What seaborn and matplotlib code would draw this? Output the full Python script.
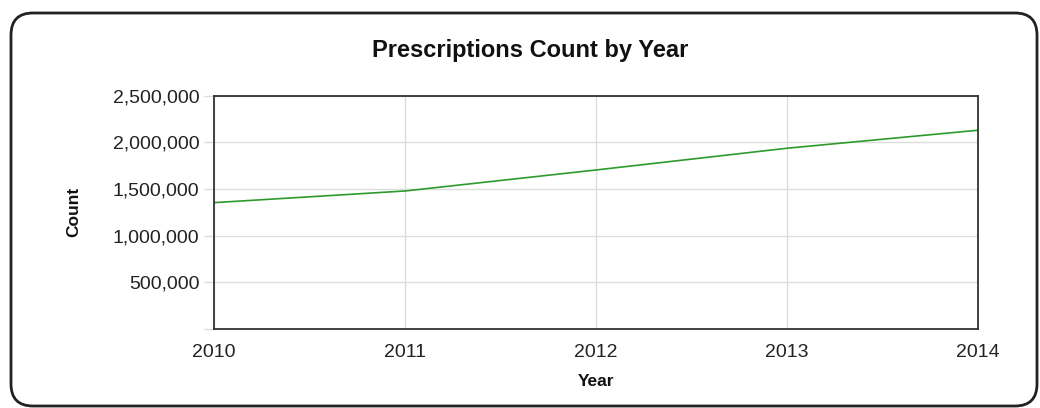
import matplotlib
matplotlib.use("Agg")
import matplotlib.pyplot as plt
from matplotlib.patches import FancyBboxPatch
from matplotlib.ticker import FuncFormatter
import seaborn as sns
import pandas as pd

years = [2010, 2011, 2012, 2013, 2014]
counts = [1354000, 1479000, 1704000, 1937000, 2130000]
y_ticks = [0, 500000, 1000000, 1500000, 2000000, 2500000]
title = "Prescriptions Count by Year"
x_label = "Year"
y_label = "Count"

df = pd.DataFrame({"Year": years, "Count": counts})

sns.set_theme(style="white")
plt.rcParams["font.family"] = ["Liberation Sans", "DejaVu Sans"]

fig = plt.figure(figsize=(10.4, 4.08), dpi=100)
ax = fig.add_axes([214 / 1040, 1 - 329 / 408, (978 - 214) / 1040, (329 - 95.7) / 408])

sns.lineplot(data=df, x="Year", y="Count", ax=ax, color="#2e9a2e", linewidth=1.2)

ax.set_xlim(years[0], years[-1])
ax.set_ylim(0, 2500000)
ax.set_xticks(years)
ax.set_xticklabels([str(y) for y in years])
ax.set_yticks(y_ticks)
ax.yaxis.set_major_formatter(FuncFormatter(lambda v, p: "" if v == 0 else f"{int(v):,}"))

ax.grid(True, color="#dddddd", linewidth=1.0)
ax.set_axisbelow(True)
for s in ax.spines.values():
    s.set_visible(True)
    s.set_color("#333333")
    s.set_linewidth(1.3)

ax.tick_params(axis="y", which="major", left=True, length=7.5, width=1.0, color="#dddddd",
               labelsize=14, labelcolor="#222222", pad=3)
ax.tick_params(axis="x", which="major", bottom=False, labelsize=14, labelcolor="#222222", pad=5)

ax.set_xlabel(x_label, fontsize=12.5, fontweight="bold", color="#111111", labelpad=9)
ax.set_ylabel(y_label, fontsize=12.5, fontweight="bold", color="#111111", labelpad=23)

fig.text(530 / 1040, 1 - 51 / 408, title, ha="center", va="center", fontsize=17,
         fontweight="bold", color="#111111")

box = FancyBboxPatch((11, 2), 1026, 393, boxstyle="round,pad=0,rounding_size=22",
                     transform=None, facecolor="none", edgecolor="#222222", linewidth=2.0)
fig.patches.append(box)

fig.savefig("out.png", dpi=100)
